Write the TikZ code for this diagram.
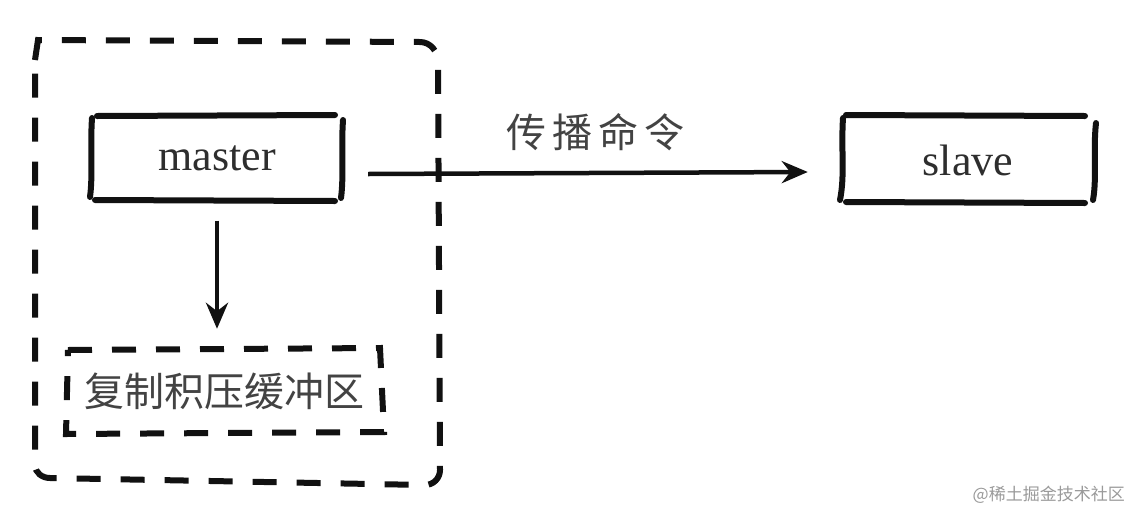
\documentclass[tikz,border=0pt]{standalone}
\usepackage{fontspec}
\newfontfamily\cjk{Noto Sans CJK SC}
\setmainfont{Liberation Serif}
\usetikzlibrary{arrows.meta}
\definecolor{ink}{HTML}{111111}
\definecolor{txt}{HTML}{2E2E2E}
\definecolor{wm}{HTML}{9A9A9A}
\tikzset{
  stroke/.style={draw=ink, line width=6pt, line cap=round},
  dashstroke/.style={draw=ink, line width=6pt, dash pattern=on 24pt off 20pt},
  arr/.style={draw=ink, line width=4.5pt, -{Stealth[length=26pt,width=22pt]}},
  boxtext/.style={text=txt, font=\fontsize{44}{46}\selectfont, inner sep=0pt},
  cjktext/.style={text=txt!90, font=\cjk\fontsize{40}{44}\selectfont, inner sep=0pt},
}
\begin{document}
\begin{tikzpicture}[x=1pt,y=-1pt]
\useasboundingbox[fill=white] (0,0) rectangle (1130,512);
% outer dashed container
\draw[dashstroke] (35,60) -- (38,40) -- (420,42) to[out=0,in=90] (438,62) -- (440,470) to[out=-90,in=0] (425,485) -- (50,478) to[out=180,in=-90] (35,465) -- cycle;
% master box
\node[boxtext, minimum width=250pt, minimum height=85pt] (master) at (217,158) {master};
\draw[stroke] (97,116) -- (335,115);
\draw[stroke] (95,200) -- (335,201);
\draw[stroke] (92,118) .. controls (90,150) and (93,175) .. (90,197);
\draw[stroke] (343,120) .. controls (341,150) and (344,175) .. (341,198);
% slave box
\node[boxtext, minimum width=250pt, minimum height=85pt] (slave) at (968,160) {slave};
\draw[stroke] (846,115) -- (1085,116);
\draw[stroke] (846,202) -- (1085,203);
\draw[stroke] (843,118) .. controls (841,150) and (845,175) .. (840,200);
\draw[stroke] (1096,123) .. controls (1093,150) and (1097,178) .. (1093,200);
% buffer dashed box
\node[cjktext, minimum width=318pt, minimum height=84pt] (buffer) at (224,391) {复制积压缓冲区};
\draw[dashstroke] (68,350) -- (380,348) -- (384,432) -- (66,434) -- cycle;
% connectors
\draw[arr] ([shift={(26,16)}]master.east) -- ([shift={(-35,12)}]slave.west);
\draw[arr] ([yshift=-20pt]master.south) -- ([yshift=20pt]master.south |- buffer.north);
% label
\node[cjktext] (lbl) at (595,132) {传\hspace{6pt}播\hspace{6pt}命\hspace{6pt}令};
% watermark
\node[text=wm, font=\cjk\fontsize{17}{19}\selectfont, inner sep=0pt, anchor=east] (wmk) at (1125,495) {@稀土掘金技术社区};
\end{tikzpicture}
\end{document}
